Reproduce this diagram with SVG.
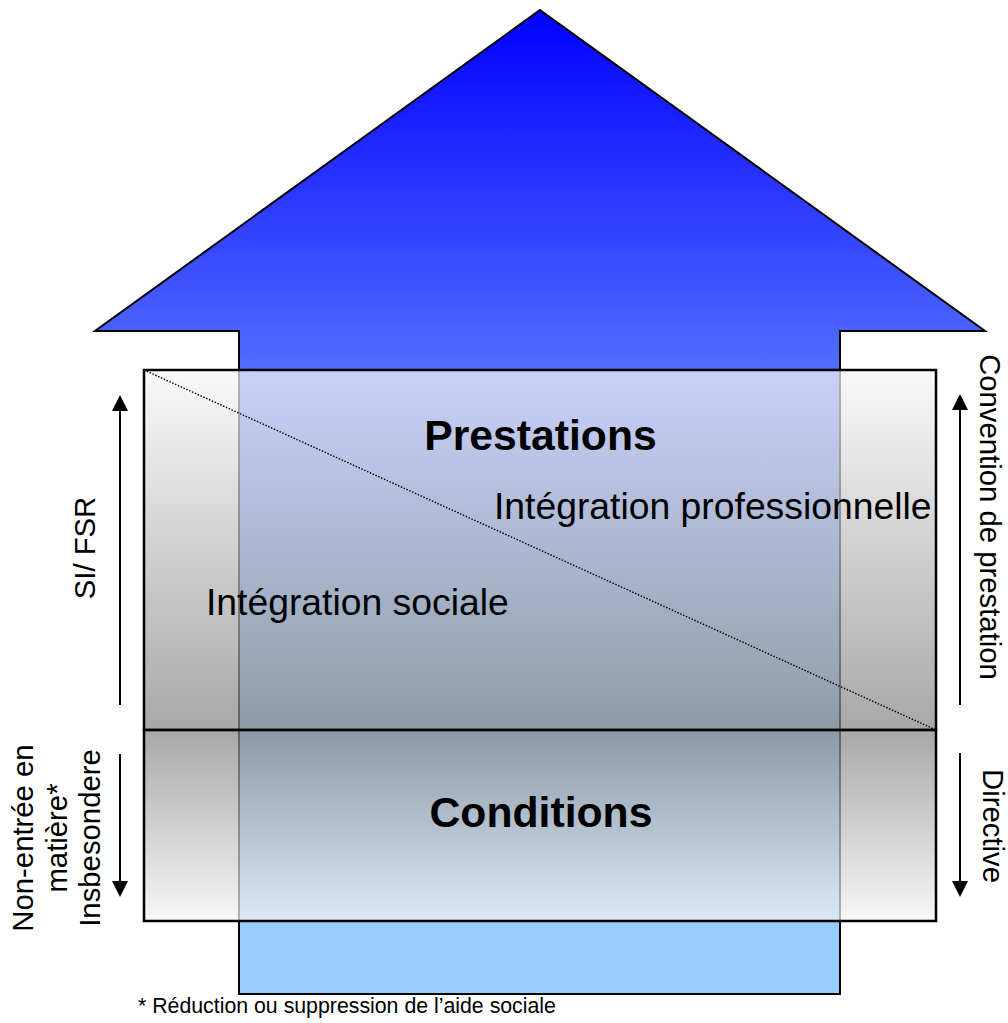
<svg xmlns="http://www.w3.org/2000/svg" width="1008" height="1023" viewBox="0 0 1008 1023">
  <style>
    text { font-family: "Liberation Sans", Arial, sans-serif; fill: #000; }
    .title { font-size: 42.7px; font-weight: bold; text-anchor: middle; }
    .inner { font-size: 37.3px; }
    .side { font-size: 29.3px; text-anchor: middle; }
    .note { font-size: 21.3px; }
    .box { stroke: #000; stroke-width: 2.5; }
    .conn { stroke: #000; stroke-width: 2; fill: none; }
  </style>
  <defs>
    <linearGradient id="arrowFill" gradientUnits="userSpaceOnUse" x1="0" y1="10" x2="0" y2="680">
      <stop offset="0" stop-color="#0000ff"/>
      <stop offset="1" stop-color="#99ccff"/>
    </linearGradient>
    <linearGradient id="fadeDown" x1="0" y1="0" x2="0" y2="1">
      <stop offset="0" stop-color="#f7f7f7"/>
      <stop offset="1" stop-color="#868686"/>
    </linearGradient>
    <linearGradient id="fadeUp" x1="0" y1="0" x2="0" y2="1">
      <stop offset="0" stop-color="#868686"/>
      <stop offset="1" stop-color="#f4f4f4"/>
    </linearGradient>
    <marker id="head" markerUnits="userSpaceOnUse" markerWidth="16" markerHeight="16" refX="8" refY="8" orient="auto">
      <path d="M0,0 L16,8 L0,16 z" fill="#000"/>
    </marker>
  </defs>

  <!-- big upward arrow -->
  <g id="arrow">
    <polygon points="540,10 985,331 840,331 840,994 239,994 239,331 95,331" fill="url(#arrowFill)" stroke="#000" stroke-width="2" stroke-linejoin="miter"/>
  </g>

  <!-- upper box: Prestations -->
  <g id="prestations">
    <rect class="box" x="144" y="370" width="792" height="360" fill="url(#fadeDown)" fill-opacity="0.72"/>
    <line x1="144" y1="370" x2="936" y2="730" stroke="#000" stroke-width="1.4" stroke-dasharray="1.5 1.6"/>
    <text class="title" x="540.5" y="450">Prestations</text>
    <text class="inner" x="494" y="519">Intégration professionnelle</text>
    <text class="inner" x="206" y="615">Intégration sociale</text>
  </g>

  <!-- lower box: Conditions -->
  <g id="conditions">
    <rect class="box" x="144" y="730" width="792" height="191" fill="url(#fadeUp)" fill-opacity="0.72"/>
    <text class="title" x="541" y="827">Conditions</text>
  </g>

  <!-- side labels -->
  <g id="label-si-fsr">
    <text class="side" transform="translate(95,548) rotate(-90)">SI/ FSR</text>
  </g>
  <g id="label-non-entree" transform="translate(0,838) rotate(-90)">
    <text class="side" x="0" y="33">Non-entrée en</text>
    <text class="side" x="0" y="67">matière*</text>
    <text class="side" x="0" y="100">Insbesondere</text>
  </g>
  <g id="label-convention">
    <text class="side" transform="translate(980,517) rotate(90)">Convention de prestation</text>
  </g>
  <g id="label-directive">
    <text class="side" transform="translate(983,826) rotate(90)">Directive</text>
  </g>

  <!-- side arrows -->
  <g id="connectors">
    <line class="conn" x1="120" y1="705" x2="120" y2="403" marker-end="url(#head)"/>
    <line class="conn" x1="120" y1="754" x2="120" y2="889" marker-end="url(#head)"/>
    <line class="conn" x1="960" y1="705" x2="960" y2="402" marker-end="url(#head)"/>
    <line class="conn" x1="960" y1="753" x2="960" y2="889" marker-end="url(#head)"/>
  </g>

  <!-- footnote -->
  <text class="note" x="138" y="1013">* Réduction ou suppression de l’aide sociale</text>
</svg>
